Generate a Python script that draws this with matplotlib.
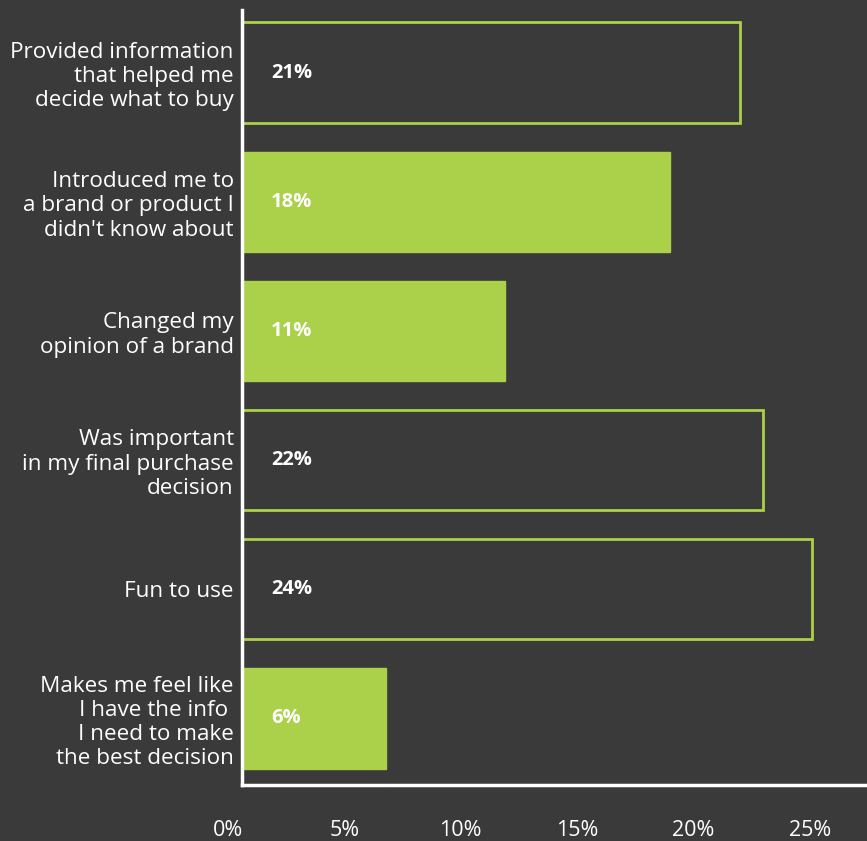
import numpy as np
import matplotlib.pyplot as plt
from matplotlib.transforms import ScaledTranslation

categories = [
    "Provided information\nthat helped me\ndecide what to buy",
    "Introduced me to\na brand or product I\ndidn't know about",
    "Changed my\nopinion of a brand",
    "Was important\nin my final purchase\ndecision",
    "Fun to use",
    "Makes me feel like\nI have the info \nI need to make\nthe best decision",
]
values = [21.4, 18.4, 11.3, 22.4, 24.5, 6.2]
value_labels = ["21%", "18%", "11%", "22%", "24%", "6%"]
filled = [False, True, True, False, False, True]
xticks = [0, 5, 10, 15, 20, 25]
xtick_labels = ["0%", "5%", "10%", "15%", "20%", "25%"]

bg = "#3a3a3a"
green = "#abd04a"
plt.rcParams['font.family'] = ['Open Sans', 'DejaVu Sans']

fig = plt.figure(figsize=(8.67, 8.41), dpi=100, facecolor=bg)
ax = fig.add_axes([242 / 867, 56 / 841, 625 / 867, 775 / 841], facecolor=bg)

y = np.arange(len(categories))
for i in range(len(categories)):
    if filled[i]:
        ax.barh(y[i], values[i], height=0.775, color=green, edgecolor=green, linewidth=1)
    else:
        ax.barh(y[i], values[i], height=0.775, facecolor="none", edgecolor=green, linewidth=2)
    ax.text(1.25, y[i], value_labels[i], color="white", fontsize=14.5, fontweight="bold",
            va="center", ha="left")

ax.set_xlim(0, 26.85)
ax.set_ylim(5.515, -0.484)
ax.set_yticks(y)
ax.set_yticklabels(categories, color="white", fontsize=16.2, linespacing=1.2)
ax.set_xticks(xticks)
ax.set_xticklabels(xtick_labels, color="white", fontsize=15.5)
ax.tick_params(axis="both", length=0)
ax.tick_params(axis="y", pad=6)
ax.tick_params(axis="x", pad=25)
offset = ScaledTranslation(-14 / 100, 0, fig.dpi_scale_trans)
for lbl in ax.get_xticklabels():
    lbl.set_transform(lbl.get_transform() + offset)

for s in ["top", "right"]:
    ax.spines[s].set_visible(False)
for s in ["left", "bottom"]:
    ax.spines[s].set_color("white")
    ax.spines[s].set_linewidth(2.5)

fig.savefig("out.png", dpi=100, facecolor=bg)
